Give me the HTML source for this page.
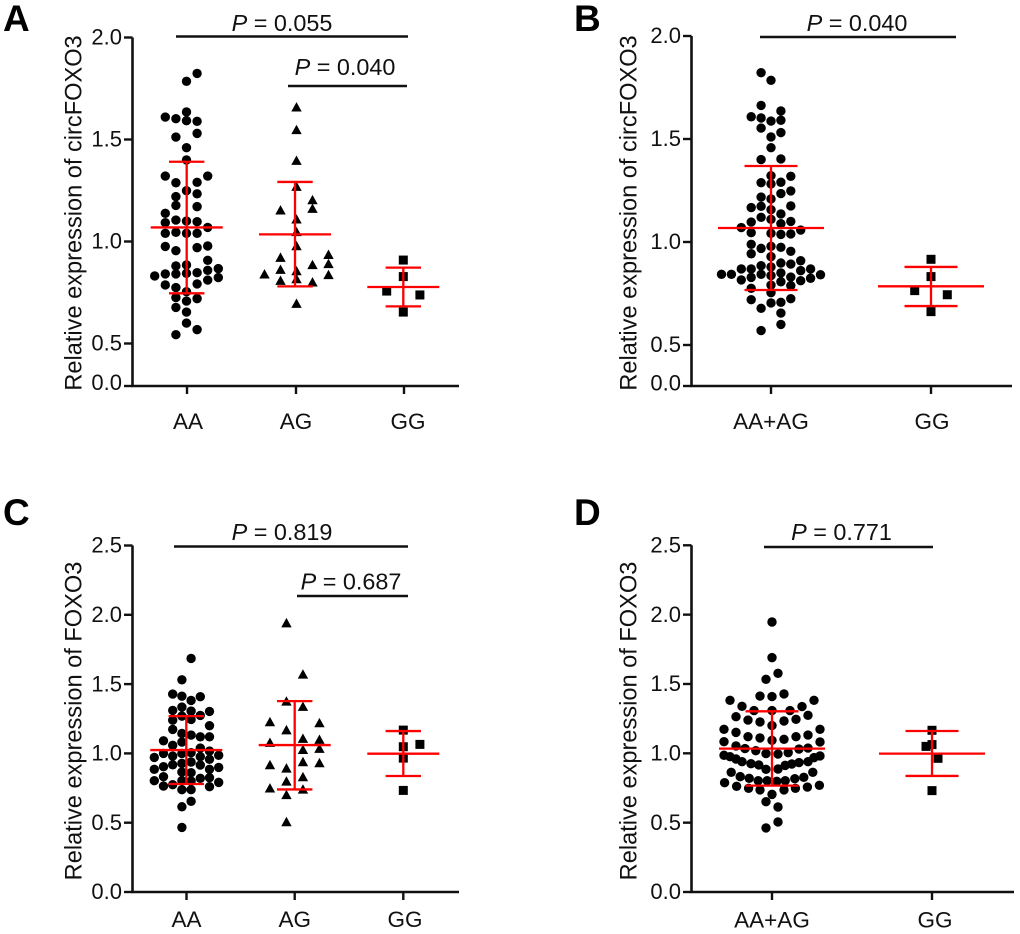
<!DOCTYPE html>
<html lang="en">
<head>
<meta charset="utf-8">
<title>Relative expression of circFOXO3 and FOXO3 by genotype</title>
<style>
html,body{margin:0;padding:0;background:#fff;}
svg{display:block;font-family:"Liberation Sans",Arial,sans-serif;filter:blur(0.35px);}
</style>
</head>
<body>
<svg id="figure" xmlns="http://www.w3.org/2000/svg" width="1020" height="934" viewBox="0 0 1020 934"></svg>
<script>
/* Panel A: circFOXO3 by AA / AG / GG */
const aCategories = ['AA', 'AG', 'GG'];
const aTicks = [0, 0.5, 1, 1.5, 2];
const aTickLabels = ['0.0', '0.5', '1.0', '1.5', '2.0'];
const aP = ['P', ' = 0.055', ' = 0.040'];
const aAAValues = [1.824,1.785,1.635,1.610,1.602,1.592,1.589,1.530,1.512,1.460,1.400,1.321,1.321,1.288,1.290,1.249,1.234,1.220,1.177,1.171,1.138,1.092,1.105,1.100,1.097,1.069,1.040,1.045,1.040,1.040,0.976,0.955,0.970,0.978,0.908,0.880,0.885,0.867,0.859,0.847,0.844,0.841,0.841,0.831,0.823,0.811,0.792,0.787,0.774,0.754,0.725,0.708,0.720,0.677,0.654,0.600,0.568,0.543];
const aAASlots = [1,0,0,-2,-1,0,1,1,-1,0,0,-2,2,-1,1,0,1,-1,-1,1,-2,-2,-1,0,1,2,-2,-1,0,1,-2,-1,1,2,2,-1,0,3,2,1,0,-1,-2,-3,3,2,1,-2,-1,0,-1,0,1,-1,0,0,1,-1];
const aAGValues = [1.658,1.547,1.396,1.269,1.203,1.153,1.161,1.109,1.047,0.978,0.935,0.921,0.890,0.885,0.862,0.855,0.839,0.836,0.808,0.816,0.800,0.695];
const aAGSlots = [0,0,0,0,1,-1,1,0,0,0,2,-1,2,1,-1,0,-2,2,-1,0,1,0];
const aGGValues = [0.909,0.828,0.757,0.738,0.654];
const aGGSlots = [0,0,-1,1,0];
const aMeans = [1.069, 1.035, 0.777];
const aUpper = [1.391, 1.292, 0.872];
const aLower = [0.746, 0.780, 0.682];

/* Panel B: circFOXO3 by AA+AG / GG */
const bCategories = ['AA+AG', 'GG'];
const bTicks = [0, 0.5, 1, 1.5, 2];
const bTickLabels = ['0.0', '0.5', '1.0', '1.5', '2.0'];
const bP = ['P', ' = 0.040'];
const bPooledValues = [1.822,1.785,1.663,1.636,1.608,1.602,1.587,1.591,1.553,1.531,1.510,1.458,1.400,1.403,1.322,1.319,1.288,1.282,1.290,1.248,1.235,1.218,1.209,1.175,1.167,1.173,1.157,1.136,1.120,1.110,1.097,1.100,1.089,1.070,1.058,1.045,1.042,1.037,1.039,0.989,0.969,0.979,0.974,0.955,0.943,0.929,0.909,0.898,0.893,0.885,0.879,0.869,0.869,0.869,0.861,0.850,0.843,0.843,0.843,0.837,0.841,0.830,0.828,0.816,0.824,0.812,0.807,0.788,0.791,0.775,0.754,0.725,0.720,0.704,0.707,0.678,0.655,0.600,0.570];
const bPooledSlots = [-1,0,-1,1,-2,-1,0,1,-1,1,0,0,-1,1,0,2,-1,0,1,2,1,-1,0,2,-2,-1,0,1,-1,0,-2,2,1,-3,3,-2,0,1,2,-2,-1,0,1,2,-2,0,3,1,2,-1,0,-3,-2,4,3,1,-5,-4,-1,0,5,2,-2,-3,4,3,1,2,0,-2,0,2,-2,0,1,-1,1,1,-1];
const bGGValues = [0.916,0.832,0.764,0.744,0.662];
const bGGSlots = [0,0,-1,1,0];
const bMeans = [1.068, 0.785];
const bUpper = [1.369, 0.879];
const bLower = [0.767, 0.689];

/* Panel C: FOXO3 by AA / AG / GG */
const cCategories = ['AA', 'AG', 'GG'];
const cTicks = [0, 0.5, 1, 1.5, 2, 2.5];
const cTickLabels = ['0.0', '0.5', '1.0', '1.5', '2.0', '2.5'];
const cP = ['P', ' = 0.819', ' = 0.687'];
const cAAValues = [1.685,1.531,1.428,1.413,1.409,1.382,1.334,1.310,1.305,1.303,1.269,1.274,1.240,1.245,1.200,1.173,1.144,1.132,1.120,1.120,1.091,1.082,1.058,1.038,1.017,1.000,1.005,1.000,0.981,0.976,0.986,0.971,0.957,0.928,0.938,0.918,0.916,0.904,0.899,0.885,0.885,0.865,0.861,0.832,0.820,0.825,0.803,0.803,0.800,0.791,0.774,0.764,0.760,0.738,0.738,0.654,0.615,0.466];
const cAASlots = [0.5,-0.5,-1.5,-0.5,1.5,0.5,-0.5,-1.5,0.5,2.5,-0.5,1.5,-1.5,0.5,2.5,-1.5,-0.5,0.5,1.5,2.5,-2.5,-0.5,-1.5,1.5,2.5,-0.5,0.5,-2.5,-1.5,1.5,3.5,-3.5,2.5,-0.5,0.5,-1.5,1.5,-2.5,3.5,-3.5,2.5,-0.5,0.5,-2.5,1.5,2.5,-3.5,-0.5,0.5,3.5,-1.5,-2.5,2.5,-0.5,0.5,0.5,-0.5,-0.5];
const cAGValues = [1.940,1.570,1.375,1.337,1.226,1.219,1.168,1.106,1.099,1.077,1.034,1.026,0.938,0.916,0.930,0.892,0.829,0.798,0.748,0.740,0.700,0.505];
const cAGSlots = [-0.5,0.5,-0.5,0.5,-1.5,1.5,-0.5,0.5,1.5,-1.5,1.5,0.5,0.5,-1.5,1.5,-0.5,0.5,-0.5,-1.5,0.5,-0.5,-0.5];
const cGGValues = [1.168,1.065,1.048,0.966,0.733];
const cGGSlots = [0,1,0,0,0];
const cMeans = [1.024, 1.060, 0.998];
const cUpper = [1.269, 1.377, 1.161];
const cLower = [0.779, 0.740, 0.837];

/* Panel D: FOXO3 by AA+AG / GG */
const dCategories = ['AA+AG', 'GG'];
const dTicks = [0, 0.5, 1, 1.5, 2, 2.5];
const dTickLabels = ['0.0', '0.5', '1.0', '1.5', '2.0', '2.5'];
const dP = ['P', ' = 0.771'];
const dPooledValues = [1.947,1.690,1.577,1.534,1.428,1.413,1.409,1.382,1.382,1.339,1.337,1.308,1.308,1.308,1.264,1.274,1.240,1.245,1.226,1.233,1.200,1.173,1.173,1.151,1.132,1.120,1.111,1.120,1.094,1.101,1.084,1.082,1.053,1.034,1.031,1.038,1.019,1.005,0.998,0.995,0.986,0.976,0.959,0.940,0.925,0.916,0.885,0.887,0.913,0.923,0.933,0.940,0.969,0.981,0.863,0.863,0.832,0.820,0.803,0.803,0.798,0.803,0.817,0.827,0.788,0.769,0.762,0.757,0.748,0.736,0.736,0.748,0.704,0.651,0.613,0.505,0.462];
const dPooledSlots = [0,0,1,-1,2,-2,0,-7,7,-5,5,-3,0,3,-6,6,-4,4,-2,2,0,-8,8,-6,6,-4,-2,4,0,2,-8,8,-6,-4.5,4.5,6,-2.7,2.7,-1,1,-8,-7,-6,-5,-3.5,-2.2,-1,1,2.2,3.3,4.5,6,7,8,-6.8,6.8,-5.3,-3.8,-2.3,-0.8,0.8,2.2,3.8,5.3,-7.9,7.9,-5.9,5.9,-3.9,-2,2,3.9,0,-1,1,1,-1];
const dGGValues = [1.166,1.063,1.050,0.964,0.731];
const dGGSlots = [0,0,-1,1,0];
const dMeans = [1.034, 0.998];
const dUpper = [1.303, 1.161];
const dLower = [0.767, 0.837];

const SVGNS = 'http://www.w3.org/2000/svg';
const root = document.getElementById('figure');

function make(parent, tag, attrs) {
  const el = document.createElementNS(SVGNS, tag);
  for (const k in attrs) el.setAttribute(k, attrs[k]);
  parent.appendChild(el);
  return el;
}

function piecewise(domain, range) {
  return function (v) {
    let i = 0;
    while (i < domain.length - 2 && v > domain[i + 1]) i++;
    const t = (v - domain[i]) / (domain[i + 1] - domain[i]);
    return range[i] + t * (range[i + 1] - range[i]);
  };
}

function drawAxes(g, cfg) {
  const axis = make(g, 'path', {d: 'M' + cfg.axisX + ' ' + cfg.y(cfg.ticks[cfg.ticks.length - 1]) + 'V' + cfg.y(0) + 'H' + cfg.axisEnd, fill: 'none', stroke: '#111', 'stroke-width': 2.6});
  
  
  cfg.ticks.forEach(function (t, i) {
    const y = cfg.y(t);
    const tick = make(g, 'line', {x1: cfg.axisX - 8.5, x2: cfg.axisX, y1: y, y2: y, stroke: '#111', 'stroke-width': 2.4});
    
    
    const lab = make(g, 'text', {x: cfg.axisX - 10.5, y: y + (t === 0 ? cfg.zeroLabelDrop : 7.2), 'text-anchor': 'end', 'font-size': 22, fill: '#111'});
    lab.textContent = cfg.tickLabels[i];
    
    
  });
  cfg.categories.forEach(function (c, i) {
    const x = cfg.groupX[i];
    const tick = make(g, 'line', {x1: x, x2: x, y1: cfg.y(0), y2: cfg.y(0) + 8, stroke: '#111', 'stroke-width': 2.4});
    
    
    const lab = make(g, 'text', {x: cfg.labelX[i], y: cfg.labelY, 'text-anchor': 'middle', 'font-size': 22.5, fill: '#111'});
    lab.textContent = c;
    
    
  });
  const title = make(g, 'text', {transform: 'translate(' + cfg.titleX + ' ' + cfg.titleY + ') rotate(-90)', 'text-anchor': 'middle', 'font-size': 23.6, fill: '#111'});
  title.textContent = cfg.title;
  
  
  const letter = make(g, 'text', {x: cfg.letterX, y: cfg.letterY, 'font-size': 37, 'font-weight': 'bold', fill: '#000'});
  letter.textContent = cfg.letter;
  
  
}

function drawMarker(g, shape, x, y) {
  let el;
  if (shape === 'circle') {
    el = make(g, 'circle', {cx: x, cy: y, r: 4.7, fill: '#000'});
  } else if (shape === 'triangle') {
    el = make(g, 'path', {d: 'M' + x + ' ' + (y - 5.2) + 'L' + (x + 5.2) + ' ' + (y + 4.2) + 'H' + (x - 5.2) + 'Z', fill: '#000'});
  } else {
    el = make(g, 'rect', {x: x - 4.5, y: y - 4.5, width: 9, height: 9, fill: '#000'});
  }
  return el;
}

function drawSeries(g, cfg, idx, values, slots, shape) {
  const gx = cfg.groupX[idx] + cfg.swarmShift[idx];
  values.forEach(function (v, i) {
    const m = drawMarker(g, shape, gx + slots[i] * cfg.slotWidth[idx], cfg.y(v));
    
    
  });
}

function drawErrors(g, cfg, means, upper, lower) {
  means.forEach(function (mean, i) {
    const x = cfg.barX[i];
    const stem = make(g, 'line', {x1: x, x2: x, y1: cfg.y(upper[i]), y2: cfg.y(lower[i]), stroke: '#f00', 'stroke-width': 2.3});
    
    
    const meanLine = make(g, 'line', {x1: x - cfg.meanHalf, x2: x + cfg.meanHalf, y1: cfg.y(mean), y2: cfg.y(mean), stroke: '#f00', 'stroke-width': 2.3});
    
    
    const capTop = make(g, 'line', {x1: x - cfg.capHalf, x2: x + cfg.capHalf, y1: cfg.y(upper[i]), y2: cfg.y(upper[i]), stroke: '#f00', 'stroke-width': 2.3});
    
    
    const capLow = make(g, 'line', {x1: x - cfg.capHalf, x2: x + cfg.capHalf, y1: cfg.y(lower[i]), y2: cfg.y(lower[i]), stroke: '#f00', 'stroke-width': 2.3});
    
    
  });
}

function drawBracket(g, x1, x2, y, textX, textY, pLetter, rest) {
  const bar = make(g, 'line', {x1: x1, x2: x2, y1: y, y2: y, stroke: '#111', 'stroke-width': 2.4});
  
  
  const t = make(g, 'text', {x: textX, y: textY, 'text-anchor': 'middle', 'font-size': 23.4, fill: '#111'});
  
  
  const italic = make(t, 'tspan', {'font-style': 'italic'});
  italic.textContent = pLetter;
  const value = make(t, 'tspan', {});
  value.textContent = rest;
}

function newPanel(name) {
  const g = make(root, 'g', {});
  
  
  return g;
}

/* Panel A */
const gA = newPanel('panel-a-circfoxo3-three-genotypes');
const cfgA = {
  y: piecewise([0, 0.5, 2], [386, 343.5, 37.5]), ticks: aTicks, tickLabels: aTickLabels, zeroLabelDrop: 4,
  axisX: 132.5, axisEnd: 459, categories: aCategories, groupX: [187, 296, 404], labelX: [188, 296, 408], labelY: 429,
  swarmShift: [-0.5, 0.5, -0.7], slotWidth: [10.6, 16, 16.6], barX: [186.7, 295, 403.3], meanHalf: 36, capHalf: 17.7,
  title: 'Relative expression of circFOXO3', titleX: 81.5, titleY: 213, letter: 'A', letterX: 3, letterY: 31
};
drawAxes(gA, cfgA);
drawSeries(gA, cfgA, 0, aAAValues, aAASlots, 'circle');
drawSeries(gA, cfgA, 1, aAGValues, aAGSlots, 'triangle');
drawSeries(gA, cfgA, 2, aGGValues, aGGSlots, 'square');
drawErrors(gA, cfgA, aMeans, aUpper, aLower);
drawBracket(gA, 176, 408, 36.5, 282, 31, aP[0], aP[1]);
drawBracket(gA, 288, 407, 86, 345, 75, aP[0], aP[2]);

/* Panel B */
const gB = newPanel('panel-b-circfoxo3-two-groups');
const cfgB = {
  y: piecewise([0, 0.5, 2], [386, 345, 36]), ticks: bTicks, tickLabels: bTickLabels, zeroLabelDrop: 4.5,
  axisX: 691.5, axisEnd: 1012, categories: bCategories, groupX: [771, 931], labelX: [771, 932], labelY: 429,
  swarmShift: [0, 0], slotWidth: [9.9, 16.3], barX: [771, 931], meanHalf: 53, capHalf: 26.5,
  title: 'Relative expression of circFOXO3', titleX: 636.5, titleY: 213, letter: 'B', letterX: 574, letterY: 31
};
drawAxes(gB, cfgB);
drawSeries(gB, cfgB, 0, bPooledValues, bPooledSlots, 'circle');
drawSeries(gB, cfgB, 1, bGGValues, bGGSlots, 'square');
drawErrors(gB, cfgB, bMeans, bUpper, bLower);
drawBracket(gB, 760, 956, 37, 857, 31, bP[0], bP[1]);

/* Panel C */
const gC = newPanel('panel-c-foxo3-three-genotypes');
const cfgC = {
  y: piecewise([0, 2.5], [892, 545.5]), ticks: cTicks, tickLabels: cTickLabels, zeroLabelDrop: 6.8,
  axisX: 132.5, axisEnd: 459, categories: cCategories, groupX: [186.5, 294.7, 403.3], labelX: [186.5, 294.7, 405], labelY: 927,
  swarmShift: [0, 0, 0], slotWidth: [9.2, 16.5, 16.6], barX: [186.3, 294.7, 403.3], meanHalf: 36, capHalf: 17.7,
  title: 'Relative expression of FOXO3', titleX: 81.5, titleY: 721, letter: 'C', letterX: 3, letterY: 525
};
drawAxes(gC, cfgC);
drawSeries(gC, cfgC, 0, cAAValues, cAASlots, 'circle');
drawSeries(gC, cfgC, 1, cAGValues, cAGSlots, 'triangle');
drawSeries(gC, cfgC, 2, cGGValues, cGGSlots, 'square');
drawErrors(gC, cfgC, cMeans, cUpper, cLower);
drawBracket(gC, 174, 408, 546.5, 282, 540, cP[0], cP[1]);
drawBracket(gC, 297, 408, 596, 351, 589.5, cP[0], cP[2]);

/* Panel D */
const gD = newPanel('panel-d-foxo3-two-groups');
const cfgD = {
  y: piecewise([0, 2.5], [892, 545.3]), ticks: dTicks, tickLabels: dTickLabels, zeroLabelDrop: 6.8,
  axisX: 691.5, axisEnd: 1014, categories: dCategories, groupX: [772, 932], labelX: [772, 935], labelY: 927.5,
  swarmShift: [0, 0], slotWidth: [6, 6], barX: [772, 932], meanHalf: 53, capHalf: 26.5,
  title: 'Relative expression of FOXO3', titleX: 636.5, titleY: 721, letter: 'D', letterX: 574, letterY: 525
};
drawAxes(gD, cfgD);
drawSeries(gD, cfgD, 0, dPooledValues, dPooledSlots, 'circle');
drawSeries(gD, cfgD, 1, dGGValues, dGGSlots, 'square');
drawErrors(gD, cfgD, dMeans, dUpper, dLower);
drawBracket(gD, 764, 933, 547, 841.5, 540, dP[0], dP[1]);
</script>
</body>
</html>
